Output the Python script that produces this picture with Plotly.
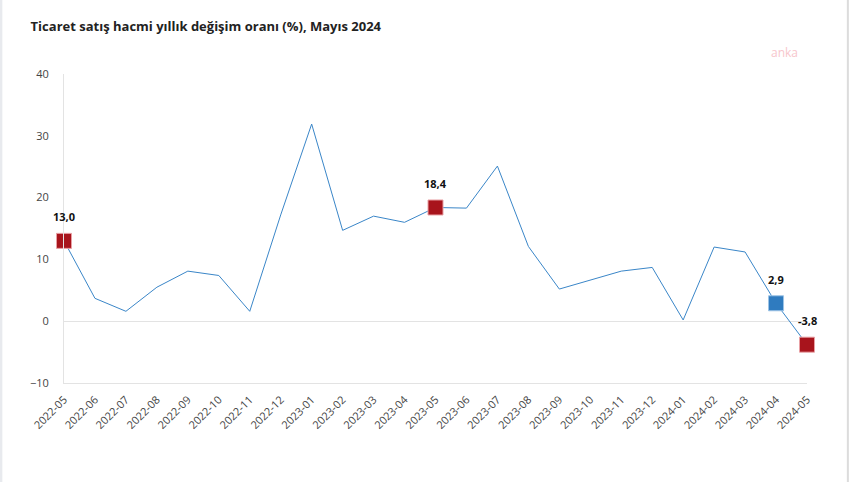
import plotly.graph_objects as go

months = [
    "2022-05", "2022-06", "2022-07", "2022-08", "2022-09", "2022-10", "2022-11", "2022-12",
    "2023-01", "2023-02", "2023-03", "2023-04", "2023-05", "2023-06", "2023-07", "2023-08",
    "2023-09", "2023-10", "2023-11", "2023-12", "2024-01", "2024-02", "2024-03", "2024-04",
    "2024-05",
]
change = [
    13.0, 3.7, 1.6, 5.5, 8.1, 7.4, 1.6, 17.2,
    31.9, 14.7, 17.0, 16.0, 18.4, 18.3, 25.1, 12.1,
    5.2, 6.6, 8.1, 8.7, 0.2, 12.0, 11.2, 2.9,
    -3.8,
]
highlight_red = ["2022-05", "2023-05", "2024-05"]
highlight_blue = ["2024-04"]

LINE = "#3a86c8"
RED = "#a8141c"
BLUE = "#2f7bbf"
AXIS = "#e3e3e3"


def fmt(v):
    return f"{v:.1f}".replace(".", ",")


idx = {m: i for i, m in enumerate(months)}

fig = go.Figure()
fig.add_trace(go.Scatter(
    x=months, y=change, mode="lines", cliponaxis=False,
    line={"color": LINE, "width": 1}, hoverinfo="skip", showlegend=False,
))
fig.add_trace(go.Scatter(
    x=highlight_red, y=[change[idx[m]] for m in highlight_red], mode="markers", cliponaxis=False,
    marker={"symbol": "square", "size": 15, "color": RED, "line": {"color": "#e8a0a4", "width": 1}},
    showlegend=False,
))
fig.add_trace(go.Scatter(
    x=highlight_blue, y=[change[idx[m]] for m in highlight_blue], mode="markers", cliponaxis=False,
    marker={"symbol": "square", "size": 15, "color": BLUE, "line": {"color": "#9cc4e6", "width": 1}},
    showlegend=False,
))

for m in highlight_red + highlight_blue:
    fig.add_annotation(
        x=m, y=change[idx[m]], text=f"<b>{fmt(change[idx[m]])}</b>", showarrow=False,
        yshift=24, font={"size": 11, "color": "#111"},
    )

fig.add_annotation(
    xref="paper", yref="paper", x=0.99, y=1.035, xanchor="right", yanchor="bottom",
    text="anka", showarrow=False, font={"size": 12, "color": "#f7c6cc"},
)

fig.update_layout(
    width=850, height=482,
    paper_bgcolor="white", plot_bgcolor="white",
    font={"family": "Open Sans, Noto Sans, sans-serif", "color": "#444", "size": 11},
    title={"text": "<b>Ticaret satış hacmi yıllık değişim oranı (%), Mayıs 2024</b>",
           "xref": "container", "yref": "container",
           "x": 0.036, "xanchor": "left", "y": 0.946, "yanchor": "middle",
           "font": {"size": 13, "color": "#222"}},
    margin={"l": 64, "r": 43, "t": 74, "b": 99, "autoexpand": False},
    shapes=[
        {"type": "line", "xref": "paper", "yref": "paper", "x0": 1.055, "x1": 1.055,
         "y0": -0.33, "y1": 1.25, "line": {"color": "#dcdcdc", "width": 2}},
        {"type": "line", "xref": "paper", "yref": "paper", "x0": -0.085, "x1": -0.085,
         "y0": -0.33, "y1": 1.25, "line": {"color": "#e8eaee", "width": 3}},
    ],
)
fig.update_xaxes(
    type="category", range=[0, 24], showgrid=False, showline=True, linecolor=AXIS,
    tickangle=-45, ticks="", automargin=False, ticklabelstandoff=5,
    tickfont={"size": 11, "color": "#444"},
)
fig.update_yaxes(
    range=[-10, 40], dtick=10, showgrid=False, showline=True, linecolor=AXIS,
    zeroline=True, zerolinecolor=AXIS, zerolinewidth=1, ticks="", ticklabelstandoff=12,
    automargin=False, tickfont={"size": 11, "color": "#444"},
)

fig.write_html("out.html", config={"displayModeBar": False},
               post_script="document.body.style.margin='0';")
